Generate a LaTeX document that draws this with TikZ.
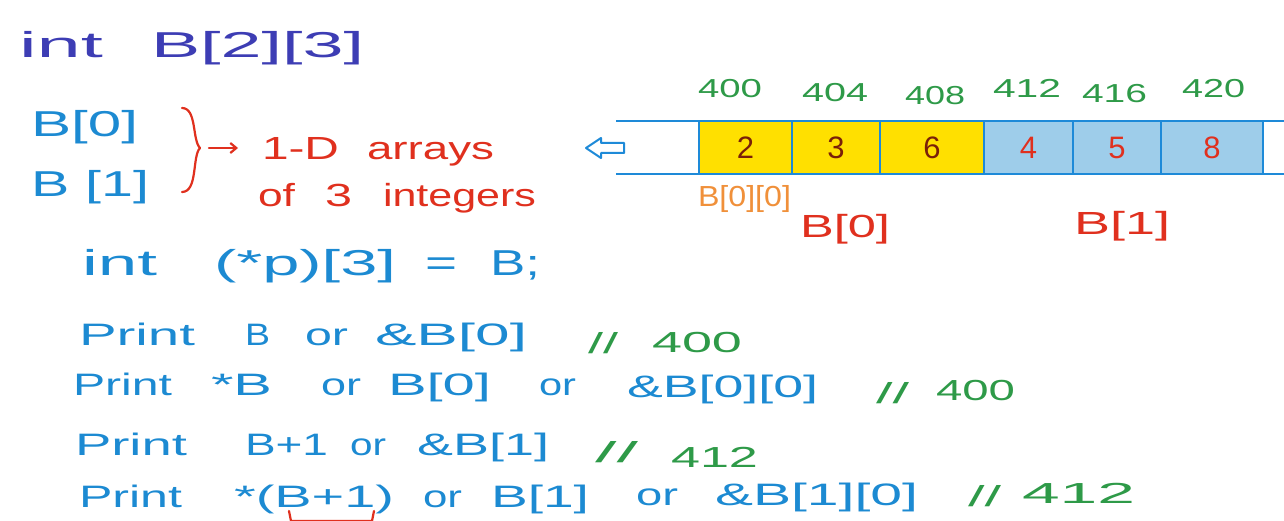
\documentclass[tikz,border=0pt]{standalone}
\usepackage{fontspec}
\setmainfont{Liberation Sans}
\usepackage{graphicx}
\usetikzlibrary{arrows.meta}
\definecolor{indigo}{HTML}{3D3DB4}
\definecolor{codeblue}{HTML}{1C8AD2}
\definecolor{hwred}{HTML}{E0301E}
\definecolor{hwgreen}{HTML}{2E9A48}
\definecolor{hworange}{HTML}{F0903A}
\definecolor{cellyellow}{HTML}{FFE000}
\definecolor{cellblue}{HTML}{9ECDEA}
\definecolor{linkblue}{HTML}{1E8AD8}
\definecolor{darknum}{HTML}{7A2008}
\newcommand{\hw}[2]{\resizebox{#1pt}{\height}{#2}}
\begin{document}
\begin{tikzpicture}[x=1pt,y=-1pt,
  t/.style={anchor=base west, inner sep=0pt, outer sep=0pt},
  fa/.style={font=\fontsize{36}{36}\selectfont},
  fb/.style={font=\fontsize{32}{32}\selectfont},
  fc/.style={font=\fontsize{31}{31}\selectfont},
  fd/.style={font=\fontsize{29}{29}\selectfont},
  fe/.style={font=\fontsize{26}{26}\selectfont},
  cell/.style={draw=linkblue, line width=2.5pt, minimum height=53pt, inner sep=0pt, font=\fontsize{31}{31}\selectfont},
  rail/.style={draw=linkblue, line width=2.5pt},
  redline/.style={draw=hwred, line width=2.2pt, line cap=round, line join=round}
]
\useasboundingbox (0,0) rectangle (1284,521);
\fill[white] (0,0) rectangle (1284,521);

% declaration
\node[t, indigo, fa] (intA) at (19,58) {\hw{84}{int}};
\node[t, indigo, fa] (decl) at (151,58) {\hw{213}{B[2][3]}};

% B[0], B[1]
\node[t, codeblue, fa] (b0) at (31,137) {\hw{107}{B[0]}};
\node[t, codeblue, fa] (b1) at (31,197) {\hw{118}{B [1]}};

% brace and arrow
\coordinate (brtop) at (182,108);
\coordinate (brtip) at (200,148);
\coordinate (brbot) at (182,192);
\draw[redline] (brtop) .. controls (197,108) and (192,140) .. (brtip) .. controls (192,156) and (198,192) .. (brbot);
\coordinate (arS) at (209,148);
\coordinate (arE) at (238,148);
\draw[redline, -{Straight Barb[length=6pt,width=10pt]}] (arS) -- (arE);

\node[t, hwred, fb] (oneD) at (262,160) {\hw{77}{1-D}};
\node[t, hwred, fb] (arrays) at (367,160) {\hw{127}{arrays}};
\node[t, hwred, fb] (of) at (258,207) {\hw{37}{of}};
\node[t, hwred, fb] (three) at (325,207) {\hw{27}{3}};
\node[t, hwred, fb] (integers) at (383,207) {\hw{153}{integers}};

% int (*p)[3] = B;
\node[t, codeblue, fa] (intB) at (82,275) {\hw{75}{int}};
\node[t, codeblue, fa] (ptr) at (214,275) {\hw{182}{(*p)[3]}};
\node[t, codeblue, fa] (eq) at (425,275) {\hw{32}{=}};
\node[t, codeblue, fa] (Bsemi) at (490,275) {\hw{50}{B;}};

% line 1
\node[t, codeblue, fc] (l1a) at (79,345) {\hw{116}{Print}};
\node[t, codeblue, fc] (l1b) at (245,345) {\hw{25}{B}};
\node[t, codeblue, fc] (l1c) at (305,345) {\hw{43}{or}};
\node[t, codeblue, fc] (l1d) at (375,345) {\hw{152}{\&B[0]}};
\node[t, hwgreen, fd] (c1a) at (588,353) {\hw{30}{//}};
\node[t, hwgreen, fd] (c1b) at (652,352) {\hw{90}{400}};

% line 2
\node[t, codeblue, fc] (l2a) at (73,395) {\hw{99}{Print}};
\node[t, codeblue, fc] (l2b) at (211,395) {\hw{61}{*B}};
\node[t, codeblue, fc] (l2c) at (321,395) {\hw{40}{or}};
\node[t, codeblue, fc] (l2d) at (388,395) {\hw{103}{B[0]}};
\node[t, codeblue, fc] (l2e) at (539,395) {\hw{37}{or}};
\node[t, codeblue, fc] (l2f) at (627,397) {\hw{191}{\&B[0][0]}};
\node[t, hwgreen, fd] (c2a) at (876,403) {\hw{33}{//}};
\node[t, hwgreen, fd] (c2b) at (936,400) {\hw{79}{400}};

% line 3
\node[t, codeblue, fc] (l3a) at (75,455) {\hw{112}{Print}};
\node[t, codeblue, fc] (l3b) at (245,455) {\hw{83}{B+1}};
\node[t, codeblue, fc] (l3c) at (350,455) {\hw{36}{or}};
\node[t, codeblue, fc] (l3d) at (417,455) {\hw{132}{\&B[1]}};
\node[t, hwgreen, fd] (c3a) at (595,462) {\hw{43}{//}};
\node[t, hwgreen, fd] (c3b) at (671,467) {\hw{87}{412}};

% line 4
\node[t, codeblue, fc] (l4a) at (79,507) {\hw{103}{Print}};
\node[t, codeblue, fc] (l4b) at (234,507) {\hw{160}{*(B+1)}};
\node[t, codeblue, fc] (l4c) at (423,507) {\hw{39}{or}};
\node[t, codeblue, fc] (l4d) at (491,507) {\hw{98}{B[1]}};
\node[t, codeblue, fc] (l4e) at (636,505) {\hw{42}{or}};
\node[t, codeblue, fc] (l4f) at (715,505) {\hw{203}{\&B[1][0]}};
\node[t, hwgreen, fd] (c4a) at (968,506) {\hw{33}{//}};
\node[t, hwgreen, fd] (c4b) at (1022,503) {\hw{113}{412}};

% underbrace below B+1
\coordinate (ubA) at (289,511);
\coordinate (ubB) at (291,521);
\coordinate (ubC) at (372,521);
\coordinate (ubD) at (374,511);
\draw[redline] (ubA) -- (ubB) -- (ubC) -- (ubD);

% memory strip
\coordinate (railL1) at (616,121);
\coordinate (railR1) at (1284,121);
\coordinate (railL2) at (616,174);
\coordinate (railR2) at (1284,174);
\node[cell, fill=cellyellow, minimum width=93pt, text=darknum] (m1) at (745.5,147.5) {2};
\node[cell, fill=cellyellow, minimum width=88pt, text=darknum] (m2) at (836,147.5) {3};
\node[cell, fill=cellyellow, minimum width=104pt, text=darknum] (m3) at (932,147.5) {6};
\node[cell, fill=cellblue, minimum width=89pt, text=hwred] (m4) at (1028.5,147.5) {4};
\node[cell, fill=cellblue, minimum width=88pt, text=hwred] (m5) at (1117,147.5) {5};
\node[cell, fill=cellblue, minimum width=102pt, text=hwred] (m6) at (1212,147.5) {8};
\draw[rail] (railL1) -- (railR1);
\draw[rail] (railL2) -- (railR2);

% hollow arrow
\draw[draw=linkblue, line width=2pt, line join=round] (586,148) -- (601,138) -- (601,143) -- (624,143) -- (624,153) -- (601,153) -- (601,158) -- cycle;

% addresses
\node[t, hwgreen, fe] (a1) at (698,98) {\hw{64}{400}};
\node[t, hwgreen, fe] (a2) at (802,102) {\hw{66}{404}};
\node[t, hwgreen, fe] (a3) at (905,105) {\hw{60}{408}};
\node[t, hwgreen, fe] (a4) at (993,98) {\hw{68}{412}};
\node[t, hwgreen, fe] (a5) at (1082,103) {\hw{65}{416}};
\node[t, hwgreen, fe] (a6) at (1182,98) {\hw{63}{420}};

% labels under the strip
\node[t, hworange, fd] (b00) at (698,207) {\hw{93}{B[0][0]}};
\node[t, hwred, fb] (lb0) at (800,238) {\hw{90}{B[0]}};
\node[t, hwred, fb] (lb1) at (1074,235) {\hw{96}{B[1]}};
\end{tikzpicture}
\end{document}
